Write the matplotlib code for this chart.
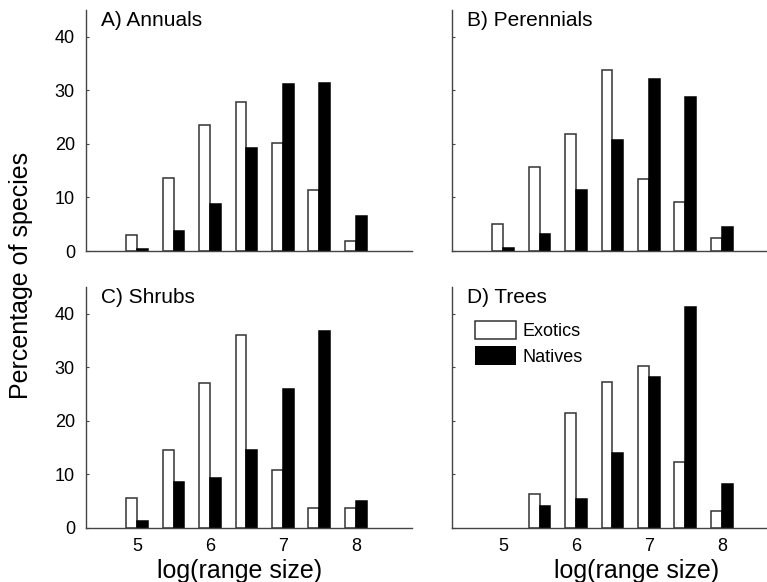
import numpy as np
import matplotlib
matplotlib.use('Agg')
import matplotlib.pyplot as plt

plt.rcParams['font.family'] = ['Liberation Sans', 'DejaVu Sans']

## bin centres, log(range size)
bins = [5, 5.5, 6, 6.5, 7, 7.5, 8]

## percentage of species per bin
annuals_exotic = [3.0, 13.7, 23.5, 27.9, 20.1, 11.3, 1.9]
annuals_native = [0.3, 3.8, 8.8, 19.2, 31.1, 31.3, 6.6]

perennials_exotic = [5.1, 15.6, 21.9, 33.8, 13.4, 9.1, 2.5]
perennials_native = [0.6, 3.2, 11.4, 20.7, 32.2, 28.8, 4.4]

shrubs_exotic = [5.6, 14.6, 27.0, 36.1, 10.9, 3.7, 3.7]
shrubs_native = [1.3, 8.5, 9.4, 14.6, 25.9, 36.7, 5.0]

trees_exotic = [0.0, 6.3, 21.4, 27.2, 30.3, 12.3, 3.1]
trees_native = [0.0, 4.1, 5.4, 14.0, 28.2, 41.2, 8.2]

panels = [
    ('A) Annuals', annuals_exotic, annuals_native),
    ('B) Perennials', perennials_exotic, perennials_native),
    ('C) Shrubs', shrubs_exotic, shrubs_native),
    ('D) Trees', trees_exotic, trees_native),
]

W, H = 767, 582
fig = plt.figure(figsize=(W / 100, H / 100), dpi=100)

# axes boxes in pixels: left, top, right, bottom
boxes = [
    (86, 10, 412, 251),
    (452, 10, 778, 251),
    (86, 287, 412, 528),
    (452, 287, 778, 528),
]
# x centre of the bottom axis labels, pixels
xlabel_pos = {2: 240, 3: 637}

bw = 0.15
x = np.array(bins)

for i, (box, (title, exo, nat)) in enumerate(zip(boxes, panels)):
    l, t, r, b = box
    ax = fig.add_axes([l / W, 1 - b / H, (r - l) / W, (b - t) / H])
    exo = np.array(exo)
    nat = np.array(nat)
    # empty bins draw nothing
    ax.bar(x - bw / 2, exo, width=bw, color='white',
           edgecolor=['#333333' if v > 0 else 'none' for v in exo],
           linewidth=1.1, label='Exotics')
    ax.bar(x + bw / 2, nat, width=bw, color='black',
           edgecolor=['black' if v > 0 else 'none' for v in nat],
           linewidth=1.1, label='Natives')
    ax.set_xlim(4.3, 8.77)
    ax.set_ylim(0, 45)
    ax.spines['top'].set_visible(False)
    ax.spines['right'].set_visible(False)
    for s in ['left', 'bottom']:
        ax.spines[s].set_color('#444444')
        ax.spines[s].set_linewidth(1.0)
    ax.set_yticks([0, 10, 20, 30, 40])
    ax.set_xticks([5, 6, 7, 8])
    ax.tick_params(axis='y', direction='in', length=2, width=0.8,
                   labelsize=13, pad=8, colors='#444444', labelcolor='black')
    ax.tick_params(axis='x', direction='in', length=0, labelsize=13, pad=7)
    if i % 2 == 1:
        ax.set_yticklabels([])
    if i < 2:
        ax.set_xticklabels([])
    else:
        ax.set_xlabel('log(range size)', fontsize=18)
        ax.xaxis.set_label_coords((xlabel_pos[i] - l) / (r - l), -0.13)
    ax.text(0.045, 0.955, title, transform=ax.transAxes, fontsize=15,
            ha='left', va='center')
    if i == 3:
        leg = ax.legend(loc='upper left', bbox_to_anchor=(0.07, 0.86),
                        frameon=False, fontsize=13, handlelength=2.3,
                        handleheight=1.2, handletextpad=0.35, labelspacing=0.35,
                        borderaxespad=0, borderpad=0)
        leg.legend_handles[0].set_edgecolor('#333333')

fig.text(0.028, 0.527, 'Percentage of species', rotation=90, fontsize=18,
         ha='center', va='center')

fig.savefig('out.png', dpi=100)
